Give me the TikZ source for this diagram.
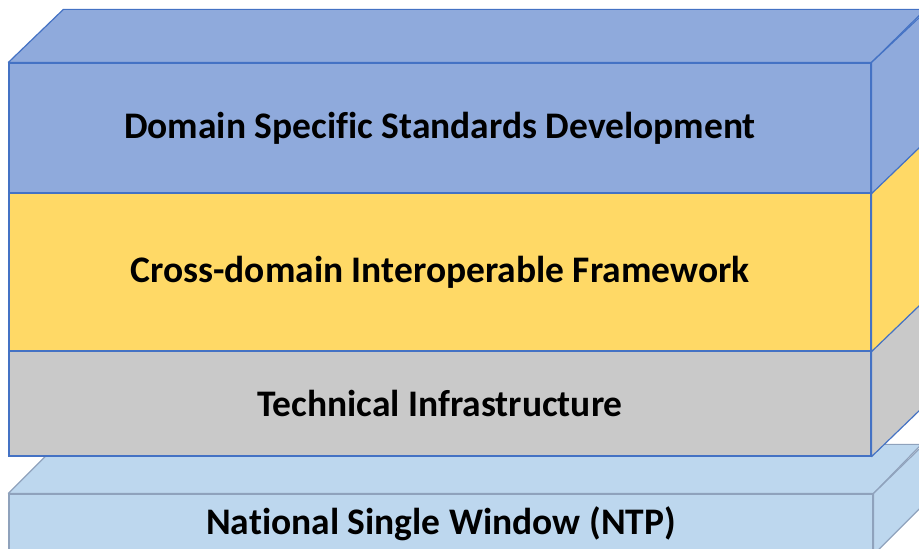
\documentclass[tikz,border=0pt]{standalone}
\usepackage{fontspec}
\setmainfont{Carlito}[Ligatures=NoCommon]
\usepackage{tikz}
\usetikzlibrary{positioning,calc}
\definecolor{edgeblue}{HTML}{4472C4}
\definecolor{edgegrey}{HTML}{8FA2BC}
\definecolor{stdblue}{HTML}{8FAADC}
\definecolor{frmyellow}{HTML}{FFD966}
\definecolor{infgrey}{HTML}{C9C9C9}
\definecolor{nswblue}{HTML}{BDD7EE}
\tikzset{
  lyr/.style={draw=edgeblue,line width=1.2pt,inner sep=0pt,minimum width=862pt,
              font=\fontsize{37.5}{42}\selectfont\bfseries},
  std/.style={lyr,fill=stdblue},
  frm/.style={lyr,fill=frmyellow},
  inf/.style={lyr,fill=infgrey},
  nsw/.style={lyr,fill=nswblue,draw=edgegrey,minimum width=864pt},
  face/.style={line width=1.2pt,line join=round},
}
\begin{document}
\begin{tikzpicture}[x=1pt,y=1pt]
  \useasboundingbox (0,0) rectangle (919,549);
  \clip (0,0) rectangle (919,549);
  % bottom layer
  \node[nsw,minimum height=60pt] (nsw) at (441,25) {National Single Window (NTP)};
  \draw[face,draw=edgegrey,fill=nswblue] (nsw.north west) -- ++(49,49) -- ++(864,0) -- (nsw.north east) -- cycle;
  \draw[face,draw=edgegrey,fill=nswblue] (nsw.south east) -- ++(49,49) -- ++(0,60) -- (nsw.north east) -- cycle;
  % infrastructure
  \node[inf,minimum height=105pt] (inf) at (440,145.5) {Technical Infrastructure};
  \draw[face,draw=edgeblue,fill=infgrey] (inf.south east) -- ++(55,53) -- ++(0,105) -- (inf.north east) -- cycle;
  % framework
  \node[frm,minimum height=158pt] (frm) at (440,277) {Cross-domain Interoperable Framework};
  \draw[face,draw=edgeblue,fill=frmyellow] (frm.south east) -- ++(55,53) -- ++(0,158) -- (frm.north east) -- cycle;
  % standards on top
  \node[std,minimum height=130pt] (std) at (440,421) {Domain Specific Standards Development};
  \draw[face,draw=edgeblue,fill=stdblue] (std.north west) -- ++(55,53) -- ++(862,0) -- (std.north east) -- cycle;
  \draw[face,draw=edgeblue,fill=stdblue] (std.south east) -- ++(55,53) -- ++(0,130) -- (std.north east) -- cycle;
\end{tikzpicture}
\end{document}
